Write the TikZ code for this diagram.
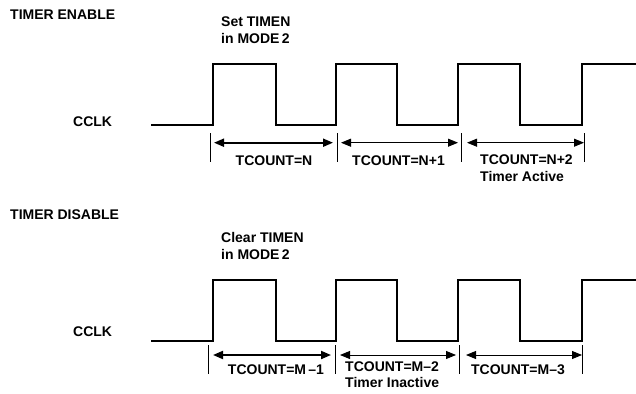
\documentclass[tikz,border=0pt]{standalone}
\usepackage{fontspec}
\setmainfont{Liberation Sans}
\usetikzlibrary{arrows.meta}

\tikzset{
  lbl/.style={font=\bfseries\fontsize{14}{17}\selectfont, inner sep=0pt, align=left},
  wave/.style={line width=2.6pt},
  tick/.style={line width=0.9pt},
  period/.style={{Triangle[length=10pt,width=8pt]}-{Triangle[length=10pt,width=8pt]}, line width=0.9pt},
  bold period/.style={period, line width=1.9pt}
}

\begin{document}
\begin{tikzpicture}[x=1pt,y=-1pt]
    \useasboundingbox (0,0) rectangle (636,393);

    % timer enable
    \node[lbl,anchor=west] (en) at (10,15) {TIMER ENABLE};
    \node[lbl,anchor=west] (set) at (221,30) {Set TIMEN\\in MODE\,2};
    \node[lbl,anchor=west] (clkA) at (73,122) {CCLK};

    \draw [wave] (151,125) -- (213,125) -- (213,64) -- (276,64) -- (276,125)
        -- (336,125) -- (336,64) -- (397,64) -- (397,125)
        -- (458,125) -- (458,64) -- (520,64) -- (520,125)
        -- (582,125) -- (582,64) -- (640,64);

    \coordinate (ta0) at (210,133);   \coordinate (tb0) at (210,162);
    \coordinate (ta1) at (337.7,133); \coordinate (tb1) at (337.7,162);
    \coordinate (ta2) at (461.3,133); \coordinate (tb2) at (461.3,162);
    \coordinate (ta3) at (584.3,133); \coordinate (tb3) at (584.3,162);
    \foreach \i in {0,...,3}
        \draw [tick] (ta\i) -- (tb\i);

    \coordinate (al1) at (214,142.7); \coordinate (ar1) at (333,142.7);
    \coordinate (al2) at (341,142.7); \coordinate (ar2) at (458,142.7);
    \coordinate (al3) at (467,142.7); \coordinate (ar3) at (584,142.7);
    \draw [bold period] (al1) -- (ar1);
    \draw [period] (al2) -- (ar2);
    \draw [period] (al3) -- (ar3);

    \node[lbl] (cnA) at (274,160.5) {TCOUNT=N};
    \node[lbl] (cnB) at (398.5,160.5) {TCOUNT=N+1};
    \node[lbl,anchor=north west] (cnC) at (480,155) {TCOUNT=N+2\\Timer Active};

    % timer disable
    \node[lbl,anchor=west] (dis) at (10,215) {TIMER DISABLE};
    \node[lbl,anchor=west] (clr) at (221,246) {Clear TIMEN\\in MODE\,2};
    \node[lbl,anchor=west] (clkB) at (73,332) {CCLK};

    \draw [wave] (151,341) -- (213,341) -- (213,280) -- (276,280) -- (276,341)
        -- (336,341) -- (336,280) -- (397,280) -- (397,341)
        -- (458,341) -- (458,280) -- (520,280) -- (520,341)
        -- (582,341) -- (582,280) -- (640,280);

    \coordinate (tc0) at (208.3,345); \coordinate (td0) at (208.3,374);
    \coordinate (tc1) at (335.7,345); \coordinate (td1) at (335.7,374);
    \coordinate (tc2) at (459.3,345); \coordinate (td2) at (459.3,374);
    \coordinate (tc3) at (582.7,345); \coordinate (td3) at (582.7,374);
    \foreach \i in {0,...,3}
        \draw [tick] (tc\i) -- (td\i);

    \coordinate (bl1) at (213,355); \coordinate (br1) at (331,355);
    \coordinate (bl2) at (340,355); \coordinate (br2) at (456,355);
    \coordinate (bl3) at (466,355); \coordinate (br3) at (582,355);
    \draw [bold period] (bl1) -- (br1);
    \draw [period] (bl2) -- (br2);
    \draw [period] (bl3) -- (br3);

    \node[lbl] (cmA) at (276,370) {TCOUNT=M\,--1};
    \node[lbl,anchor=north west] (cmB) at (345,362) {TCOUNT=M--2\\[-1.5pt]Timer Inactive};
    \node[lbl] (cmC) at (518,370) {TCOUNT=M--3};
\end{tikzpicture}
\end{document}
